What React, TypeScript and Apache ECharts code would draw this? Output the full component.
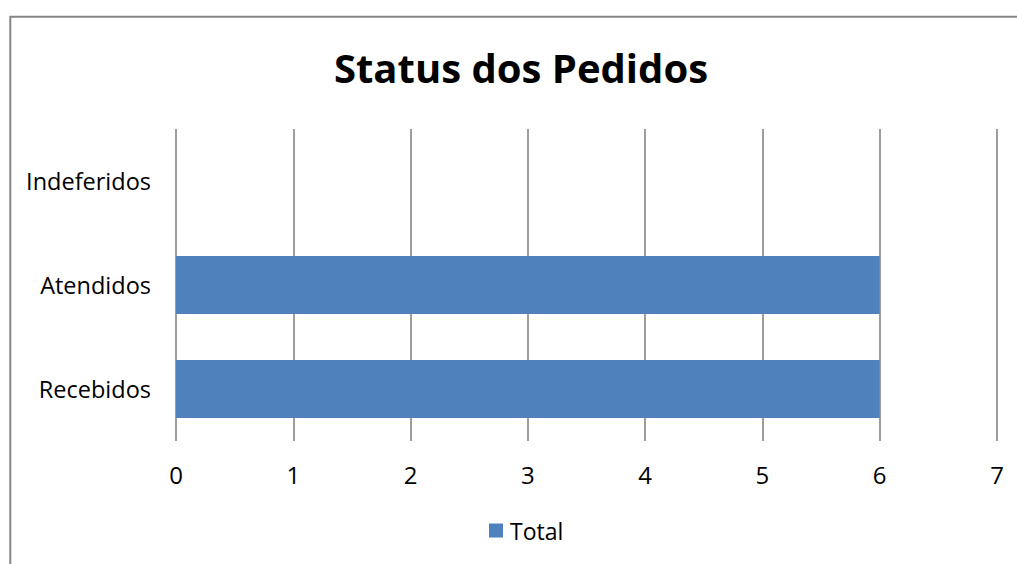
import React, { useEffect, useRef } from "react";
import * as echarts from "echarts";

const categories = ["Recebidos", "Atendidos", "Indeferidos"];
const totals = [6, 6, 0];
const xTicks = { min: 0, max: 7, interval: 1 };
const titleText = "Status dos Pedidos";
const seriesName = "Total";

export default function App() {
  const ref = useRef<HTMLDivElement>(null);
  useEffect(() => {
    if (!ref.current) return;
    const chart = echarts.init(ref.current, null, { renderer: "svg" });
    const font = "'Open Sans', 'Noto Sans', sans-serif";
    chart.setOption({
      animation: false,
      backgroundColor: "#ffffff",
      textStyle: { fontFamily: font },
      graphic: [
        {
          type: "rect",
          shape: { x: 10.3, y: 16.8, width: 1200, height: 700 },
          style: { fill: "none", stroke: "#868686", lineWidth: 2 },
          silent: true,
        },
        {
          type: "text",
          x: 521,
          y: 67,
          style: {
            text: titleText,
            align: "center",
            verticalAlign: "middle",
            fontFamily: font,
            fontSize: 40,
            fontWeight: "bold",
            fill: "#000",
          },
          silent: true,
        },
      ],
      legend: {
        data: [seriesName],
        left: 489,
        top: 519,
        padding: 0,
        icon: "rect",
        itemWidth: 14,
        itemHeight: 14,
        itemGap: 5,
        textStyle: { fontFamily: font, fontSize: 23, color: "#000", padding: [0, 0, 0, 2] },
      },
      grid: { left: 176, right: 20, top: 129, bottom: 123, containLabel: false },
      xAxis: {
        type: "value",
        min: xTicks.min,
        max: xTicks.max,
        interval: xTicks.interval,
        axisLine: { show: false },
        axisTick: { show: false },
        splitLine: { show: true, lineStyle: { color: "#868686", width: 1.6 } },
        axisLabel: { fontFamily: font, fontSize: 24, color: "#000", margin: 21 },
      },
      yAxis: {
        type: "category",
        data: categories,
        axisLine: { show: false },
        axisTick: { show: false },
        axisLabel: { fontFamily: font, fontSize: 23.5, color: "#000", margin: 25 },
      },
      series: [
        {
          name: seriesName,
          type: "bar",
          data: totals,
          barCategoryGap: "44.4%",
          itemStyle: { color: "#4F81BD" },
        },
      ],
    });
    return () => chart.dispose();
  }, []);
  return (
    <div
      ref={ref}
      style={{ position: "fixed", left: 0, top: 0, width: 1017, height: 564 }}
    />
  );
}
